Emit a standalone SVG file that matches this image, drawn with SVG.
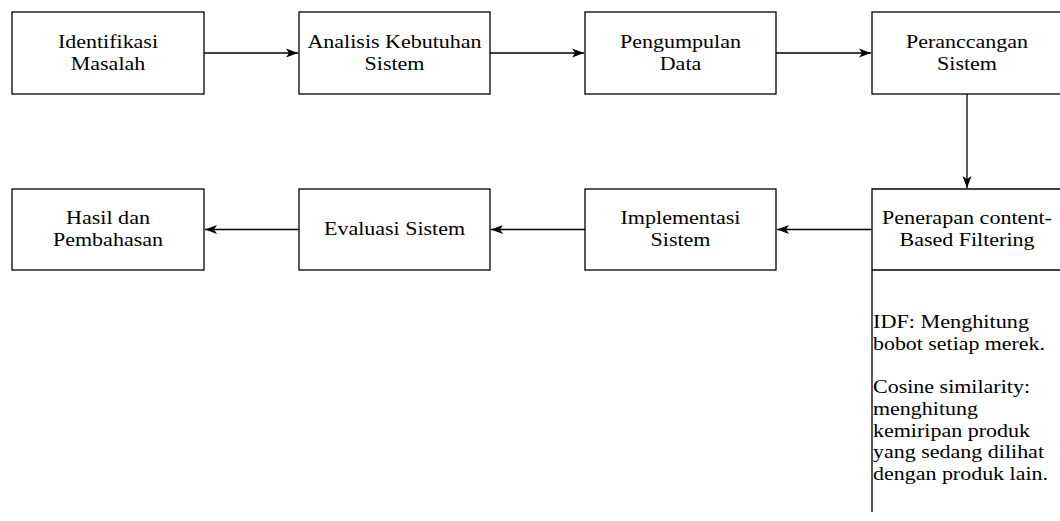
<svg xmlns="http://www.w3.org/2000/svg" width="1060" height="521" viewBox="0 0 1060 521">
<defs>
<style>
.box{fill:#fff;stroke:#000;stroke-width:1.3}
.lbl{font-family:"Liberation Serif","Times New Roman",serif;font-size:19px;fill:#000;text-anchor:middle}
.note{font-family:"Liberation Serif","Times New Roman",serif;font-size:19px;fill:#000}
.edge{fill:none;stroke:#000;stroke-width:1.3}
</style>
<marker id="arr" viewBox="0 0 12 10" refX="12" refY="5" markerWidth="12" markerHeight="10" markerUnits="userSpaceOnUse" orient="auto">
<path d="M0,0.5 L12,5 L0,9.5 L3,5 Z" fill="#000"/>
</marker>
</defs>
<rect width="1060" height="521" fill="#fff"/>
<g id="connectors">
<line class="edge" x1="204" y1="53" x2="298" y2="53" marker-end="url(#arr)"/>
<line class="edge" x1="490" y1="53" x2="584" y2="53" marker-end="url(#arr)"/>
<line class="edge" x1="776" y1="53" x2="871" y2="53" marker-end="url(#arr)"/>
<line class="edge" x1="967" y1="94" x2="967" y2="188" marker-end="url(#arr)"/>
<line class="edge" x1="872" y1="229.5" x2="777" y2="229.5" marker-end="url(#arr)"/>
<line class="edge" x1="585" y1="229.5" x2="491" y2="229.5" marker-end="url(#arr)"/>
<line class="edge" x1="299" y1="229.5" x2="205" y2="229.5" marker-end="url(#arr)"/>
</g>
<g id="n1"><rect class="box" x="12" y="12" width="192" height="82"/>
<text class="lbl" x="108" y="48" textLength="100" lengthAdjust="spacingAndGlyphs">Identifikasi</text>
<text class="lbl" x="108" y="70" textLength="74.5" lengthAdjust="spacingAndGlyphs">Masalah</text></g>
<g id="n2"><rect class="box" x="299" y="12" width="191" height="82"/>
<text class="lbl" x="394.5" y="48" textLength="174" lengthAdjust="spacingAndGlyphs">Analisis Kebutuhan</text>
<text class="lbl" x="394.5" y="70" textLength="60" lengthAdjust="spacingAndGlyphs">Sistem</text></g>
<g id="n3"><rect class="box" x="585" y="12" width="191" height="82"/>
<text class="lbl" x="680.5" y="48" textLength="121" lengthAdjust="spacingAndGlyphs">Pengumpulan</text>
<text class="lbl" x="680.5" y="70" textLength="41.5" lengthAdjust="spacingAndGlyphs">Data</text></g>
<g id="n4"><rect class="box" x="872" y="12" width="192" height="82"/>
<text class="lbl" x="967" y="48" textLength="122" lengthAdjust="spacingAndGlyphs">Peranccangan</text>
<text class="lbl" x="967" y="70" textLength="60" lengthAdjust="spacingAndGlyphs">Sistem</text></g>
<g id="n5"><path class="box" d="M1064,189 H872 V270 H1064 M872,270 V512"/>
<text class="lbl" x="967" y="223.5" textLength="170" lengthAdjust="spacingAndGlyphs">Penerapan content-</text>
<text class="lbl" x="967" y="246" textLength="135" lengthAdjust="spacingAndGlyphs">Based Filtering</text>
<text class="note" x="873" y="328" textLength="156" lengthAdjust="spacingAndGlyphs">IDF: Menghitung</text>
<text class="note" x="873" y="350" textLength="172" lengthAdjust="spacingAndGlyphs">bobot setiap merek.</text>
<text class="note" x="873" y="393" textLength="157" lengthAdjust="spacingAndGlyphs">Cosine similarity:</text>
<text class="note" x="873" y="415" textLength="105" lengthAdjust="spacingAndGlyphs">menghitung</text>
<text class="note" x="873" y="437" textLength="157" lengthAdjust="spacingAndGlyphs">kemiripan produk</text>
<text class="note" x="873" y="458" textLength="171" lengthAdjust="spacingAndGlyphs">yang sedang dilihat</text>
<text class="note" x="873" y="480" textLength="175" lengthAdjust="spacingAndGlyphs">dengan produk lain.</text></g>
<g id="n6"><rect class="box" x="585" y="189" width="191" height="81"/>
<text class="lbl" x="680.5" y="224" textLength="120" lengthAdjust="spacingAndGlyphs">Implementasi</text>
<text class="lbl" x="680.5" y="246" textLength="60" lengthAdjust="spacingAndGlyphs">Sistem</text></g>
<g id="n7"><rect class="box" x="299" y="189" width="191" height="81"/>
<text class="lbl" x="394.5" y="234.5" textLength="141" lengthAdjust="spacingAndGlyphs">Evaluasi Sistem</text></g>
<g id="n8"><rect class="box" x="12" y="189" width="192" height="81"/>
<text class="lbl" x="108" y="224" textLength="84" lengthAdjust="spacingAndGlyphs">Hasil dan</text>
<text class="lbl" x="108" y="246" textLength="110" lengthAdjust="spacingAndGlyphs">Pembahasan</text></g>
</svg>
